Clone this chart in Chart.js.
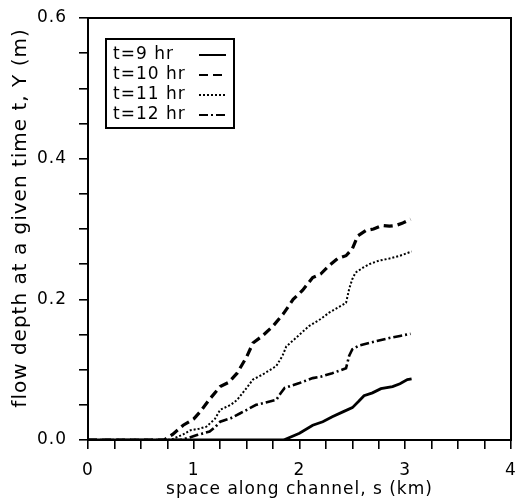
<!DOCTYPE html>
<html lang="en">
<head>
    <meta charset="UTF-8">
    <title>Flow depth along channel</title>
    <script src="https://cdn.jsdelivr.net/npm/chart.js"></script>
    <style>
        body { margin: 0; background: #fff; }
        #wrap { width: 517px; height: 499px; }
    </style>
</head>
<body>
    <div id="wrap"><canvas id="depthChart" width="517" height="499"></canvas></div>

    <script>
        // series labels
        const seriesLabels = ['t=9 hr', 't=10 hr', 't=11 hr', 't=12 hr'];

        // space along channel (km) and depth (m)
        const s9 = [0, 0.5, 1.0, 1.5, 1.85, 2.0, 2.125, 2.22, 2.31, 2.41, 2.5, 2.56, 2.61, 2.69, 2.77, 2.88, 2.95, 3.02, 3.06];
        const y9 = [0, 0, 0, 0, 0, 0.0095, 0.021, 0.026, 0.033, 0.040, 0.046, 0.055, 0.063, 0.067, 0.073, 0.076, 0.080, 0.086, 0.087];

        const s10 = [0, 0.5, 0.72, 0.8, 0.9, 1.0, 1.06, 1.15, 1.25, 1.33, 1.41, 1.5, 1.56, 1.65, 1.75, 1.85, 1.94, 2.03, 2.125, 2.2, 2.28, 2.36, 2.44, 2.5, 2.55, 2.63, 2.7, 2.78, 2.85, 2.91, 2.97, 3.05];
        const y10 = [0, 0, 0, 0.008, 0.021, 0.030, 0.040, 0.058, 0.076, 0.082, 0.095, 0.118, 0.138, 0.148, 0.162, 0.180, 0.200, 0.213, 0.231, 0.236, 0.248, 0.258, 0.262, 0.272, 0.290, 0.298, 0.300, 0.305, 0.304, 0.305, 0.308, 0.314];

        const s11 = [0, 0.5, 0.78, 0.9, 0.97, 1.05, 1.12, 1.2, 1.25, 1.35, 1.41, 1.5, 1.56, 1.65, 1.78, 1.84, 1.875, 1.95, 2.09, 2.2, 2.28, 2.36, 2.44, 2.47, 2.5, 2.53, 2.6, 2.66, 2.75, 2.85, 2.95, 3.06];
        const y11 = [0, 0, 0, 0.008, 0.014, 0.016, 0.019, 0.030, 0.043, 0.050, 0.057, 0.074, 0.086, 0.093, 0.105, 0.120, 0.133, 0.143, 0.162, 0.172, 0.181, 0.188, 0.195, 0.215, 0.229, 0.238, 0.245, 0.250, 0.255, 0.258, 0.262, 0.268];

        const s12 = [0, 0.5, 0.87, 0.95, 1.03, 1.15, 1.2, 1.25, 1.35, 1.44, 1.59, 1.7, 1.78, 1.82, 1.86, 2.0, 2.125, 2.2, 2.31, 2.44, 2.47, 2.5, 2.56, 2.66, 2.85, 2.95, 3.05];
        const y12 = [0, 0, 0, 0.003, 0.007, 0.012, 0.018, 0.026, 0.031, 0.038, 0.050, 0.054, 0.057, 0.066, 0.074, 0.081, 0.088, 0.090, 0.095, 0.102, 0.120, 0.129, 0.134, 0.138, 0.145, 0.148, 0.151];

        // tick labels
        const xTickLabels = [0, 1, 2, 3, 4];
        const yTickLabels = [0.0, 0.2, 0.4, 0.6];

        const FONT = "'DejaVu Sans', sans-serif";
        const SPACING = '1px';

        function pairs(xs, ys) {
            return xs.map((x, i) => ({ x: x, y: ys[i] }));
        }

        const styles = [
            { dash: [], width: 2.8 },
            { dash: [9, 5], width: 3.2 },
            { dash: [2, 2], width: 2 },
            { dash: [9, 3, 2, 3], width: 2.6 }
        ];

        const allData = [pairs(s9, y9), pairs(s10, y10), pairs(s11, y11), pairs(s12, y12)];

        const datasets = allData.map((d, i) => ({
            label: seriesLabels[i],
            data: d,
            borderColor: '#000',
            borderWidth: styles[i].width,
            borderDash: styles[i].dash,
            pointRadius: 0,
            tension: 0,
            fill: false
        }));

        // the old plotter font is wide, so space the letters a bit
        const spacingPlugin = {
            id: 'spacing',
            beforeUpdate(chart) { chart.ctx.letterSpacing = SPACING; },
            beforeDraw(chart) { chart.ctx.letterSpacing = SPACING; }
        };

        // frame + legend box (text first, line sample after)
        const framePlugin = {
            id: 'frame',
            afterDraw(chart) {
                const ctx = chart.ctx;
                const a = chart.chartArea;
                ctx.save();
                ctx.strokeStyle = '#000';
                ctx.lineWidth = 2;
                ctx.strokeRect(a.left, a.top, a.right - a.left, a.bottom - a.top);

                const bx = 106, by = 39, bw = 128, bh = 89;
                ctx.fillStyle = '#fff';
                ctx.fillRect(bx, by, bw, bh);
                ctx.strokeRect(bx, by, bw, bh);
                ctx.font = '17px ' + FONT;
                ctx.letterSpacing = SPACING;
                ctx.fillStyle = '#000';
                ctx.textBaseline = 'middle';
                chart.data.datasets.forEach((ds, i) => {
                    const ly = by + 16 + i * 20;
                    ctx.fillText(ds.label, bx + 7, ly);
                    ctx.beginPath();
                    ctx.setLineDash(ds.borderDash);
                    ctx.lineWidth = Math.min(ds.borderWidth, 2);
                    ctx.moveTo(bx + 93, ly);
                    ctx.lineTo(bx + 120, ly);
                    ctx.stroke();
                });
                ctx.restore();
            }
        };

        new Chart(document.getElementById('depthChart'), {
            type: 'line',
            data: { datasets: datasets },
            options: {
                responsive: false,
                animation: false,
                layout: { padding: { top: 18, right: 6, bottom: 0, left: 0 } },
                plugins: { legend: { display: false }, tooltip: { enabled: false } },
                scales: {
                    x: {
                        type: 'linear',
                        min: 0,
                        max: 4,
                        afterFit(scale) {
                            scale.height = 59;
                            scale.paddingLeft = 0;
                            scale.paddingRight = 0;
                        },
                        afterBuildTicks(scale) {
                            const t = [];
                            for (let v = 0; v <= 16; v++) t.push({ value: v / 4 });
                            scale.ticks = t;
                        },
                        ticks: {
                            autoSkip: false,
                            maxRotation: 0,
                            padding: 11,
                            color: '#000',
                            font: { family: FONT, size: 17 },
                            callback: v => xTickLabels.includes(v) ? String(v) : ''
                        },
                        grid: { drawOnChartArea: false, drawTicks: true, tickLength: 9, color: '#000', lineWidth: 1.6 },
                        border: { display: true, color: '#000', width: 2 },
                        title: {
                            display: true,
                            text: 'space along channel, s (km)',
                            color: '#000',
                            font: { family: FONT, size: 17 },
                            padding: { top: 0, bottom: -1 }
                        }
                    },
                    y: {
                        min: 0,
                        max: 0.6,
                        afterFit(scale) {
                            scale.width = 88;
                            scale.paddingTop = 0;
                            scale.paddingBottom = 0;
                        },
                        afterBuildTicks(scale) {
                            const t = [];
                            for (let v = 0; v <= 12; v++) t.push({ value: v / 20 });
                            scale.ticks = t;
                        },
                        ticks: {
                            autoSkip: false,
                            padding: 12,
                            color: '#000',
                            font: { family: FONT, size: 17 },
                            callback: v => {
                                const r = Math.round(v * 10) / 10;
                                return (Math.abs(v - r) < 1e-6 && yTickLabels.includes(r)) ? r.toFixed(1) : '';
                            }
                        },
                        grid: { drawOnChartArea: false, drawTicks: true, tickLength: 9, color: '#000', lineWidth: 1.6 },
                        border: { display: true, color: '#000', width: 2 },
                        title: {
                            display: true,
                            // leading spaces nudge the rotated title up, as in the original
                            text: '   flow depth at a given time t, Y (m)',
                            color: '#000',
                            font: { family: FONT, size: 20 },
                            padding: { top: 9, bottom: 0 }
                        }
                    }
                }
            },
            plugins: [spacingPlugin, framePlugin]
        });
    </script>
</body>
</html>
